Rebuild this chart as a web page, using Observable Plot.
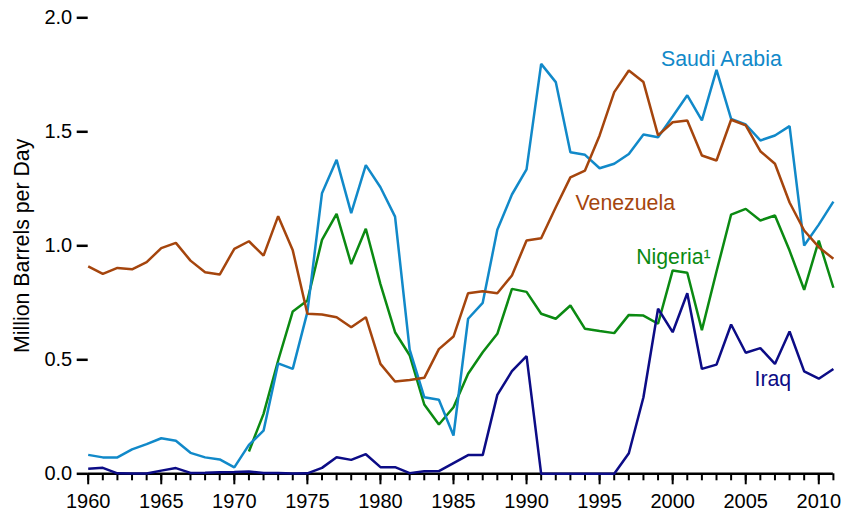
<!DOCTYPE html>
<html>
<head>
<meta charset="utf-8">
<script src="https://cdn.jsdelivr.net/npm/d3@7"></script>
<script src="https://cdn.jsdelivr.net/npm/@observablehq/plot@0.6"></script>
<style>
  html, body { margin: 0; padding: 0; background: #fff; }
  #chart svg { display: block; }
</style>
</head>
<body>
<div id="chart"></div>
<script>
// ---- Data (million barrels per day) ----
const years = d3.range(1960, 2012);          // 1960 … 2011
const nigeriaYears = d3.range(1971, 2012);   // 1971 … 2011
const majorYears = [1960, 1965, 1970, 1975, 1980, 1985, 1990, 1995, 2000, 2005, 2010];
const yTicks = [0, 0.5, 1.0, 1.5, 2.0];

const saudiArabia = [
  0.083, 0.072, 0.072, 0.107, 0.130, 0.156, 0.145, 0.092, 0.072, 0.063,
  0.028, 0.127, 0.189, 0.484, 0.460, 0.709, 1.231, 1.377, 1.143, 1.354,
  1.257, 1.128, 0.545, 0.336, 0.325, 0.168, 0.680, 0.750, 1.070, 1.225,
  1.335, 1.798, 1.718, 1.410, 1.399, 1.340, 1.360, 1.403, 1.488, 1.476,
  1.567, 1.660, 1.550, 1.772, 1.557, 1.532, 1.462, 1.484, 1.525, 1.001,
  1.093, 1.194
];
const venezuela = [
  0.910, 0.877, 0.903, 0.897, 0.928, 0.990, 1.013, 0.935, 0.884, 0.874,
  0.987, 1.020, 0.957, 1.130, 0.980, 0.702, 0.699, 0.687, 0.643, 0.687,
  0.482, 0.405, 0.411, 0.421, 0.547, 0.602, 0.792, 0.801, 0.792, 0.870,
  1.023, 1.033, 1.169, 1.300, 1.330, 1.484, 1.674, 1.769, 1.718, 1.484,
  1.542, 1.550, 1.396, 1.374, 1.553, 1.528, 1.415, 1.360, 1.190, 1.067,
  0.994, 0.943
];
const nigeria = [
  0.098, 0.263, 0.497, 0.712, 0.760, 1.026, 1.140, 0.920, 1.075,
  0.832, 0.621, 0.520, 0.304, 0.216, 0.292, 0.439, 0.533, 0.614, 0.811,
  0.798, 0.702, 0.680, 0.738, 0.636, 0.626, 0.617, 0.697, 0.694, 0.658,
  0.892, 0.882, 0.630, 0.887, 1.137, 1.162, 1.111, 1.133, 0.979, 0.807,
  1.023, 0.816
];
const iraq = [
  0.022, 0.026, 0.002, 0.001, 0.001, 0.014, 0.025, 0.004, 0.005, 0.007,
  0.008, 0.010, 0.003, 0.003, 0.001, 0.002, 0.026, 0.073, 0.061, 0.086,
  0.029, 0.029, 0.003, 0.011, 0.012, 0.047, 0.082, 0.082, 0.346, 0.450,
  0.516, 0.000, 0.000, 0.000, 0.000, 0.000, 0.000, 0.090, 0.336, 0.724,
  0.621, 0.792, 0.460, 0.479, 0.655, 0.531, 0.551, 0.482, 0.624, 0.449,
  0.417, 0.460
];

// series names, colours and label anchors (year, value of label baseline-left)
const seriesNames  = ["Nigeria", "Saudi Arabia", "Venezuela", "Iraq"];
const seriesLabels = ["Nigeria\u00B9", "Saudi Arabia", "Venezuela", "Iraq"];
const seriesColors = ["#0b8a12", "#1189c9", "#a5450d", "#0c0c86"];
const labelYear    = [1997.5, 1999.2, 1993.35, 2005.6];
const labelValue   = [0.921, 1.788, 1.155, 0.387];

const seriesValues = [nigeria, saudiArabia, venezuela, iraq];
const seriesYears  = [nigeriaYears, years, years, years];

const rows = seriesNames.map((name, s) =>
  seriesYears[s].map((yr, i) => ({series: name, year: yr, value: seriesValues[s][i]}))
);

const font = "'Liberation Sans', Arial, Helvetica, sans-serif";

const marks = [
  Plot.axisY({ticks: yTicks, tickSize: 11, tickPadding: 5, tickFormat: d3.format(".1f"),
              strokeWidth: 2.5, label: null, fontSize: 20}),
  Plot.axisX({ticks: years, tickSize: 7, tickFormat: () => "", strokeWidth: 2, label: null}),
  Plot.axisX({ticks: majorYears, tickSize: 11, tickPadding: 9, tickFormat: d3.format("d"),
              strokeWidth: 2, label: null, fontSize: 20}),
  Plot.ruleY([0], {strokeWidth: 2.5})
];

rows.forEach((data, s) => {
  marks.push(Plot.line(data, {x: "year", y: "value", stroke: seriesColors[s],
    strokeWidth: 2.5, strokeLinejoin: "miter", strokeLinecap: "butt"}));
});
seriesNames.forEach((name, s) => {
  marks.push(Plot.text([{year: labelYear[s], value: labelValue[s], label: seriesLabels[s]}], {
    x: "year", y: "value", text: "label", fill: seriesColors[s],
    textAnchor: "start", lineAnchor: "bottom", fontSize: 21.3
  }));
});
marks.push(Plot.text(["Million Barrels per Day"], {
  frameAnchor: "left", textAnchor: "middle", lineAnchor: "middle",
  rotate: -90, dx: -66, fontSize: 21.3, fill: "black"
}));

const chart = Plot.plot({
  width: 846,
  height: 511,
  marginLeft: 87.7,
  marginRight: 13.1,
  marginTop: 17.3,
  marginBottom: 37.7,
  x: {domain: [1960, 2011]},
  y: {domain: [0, 2]},
  style: {fontFamily: font, fontSize: "20px", color: "black", background: "white"},
  marks
});
document.getElementById("chart").appendChild(chart);
</script>
</body>
</html>
